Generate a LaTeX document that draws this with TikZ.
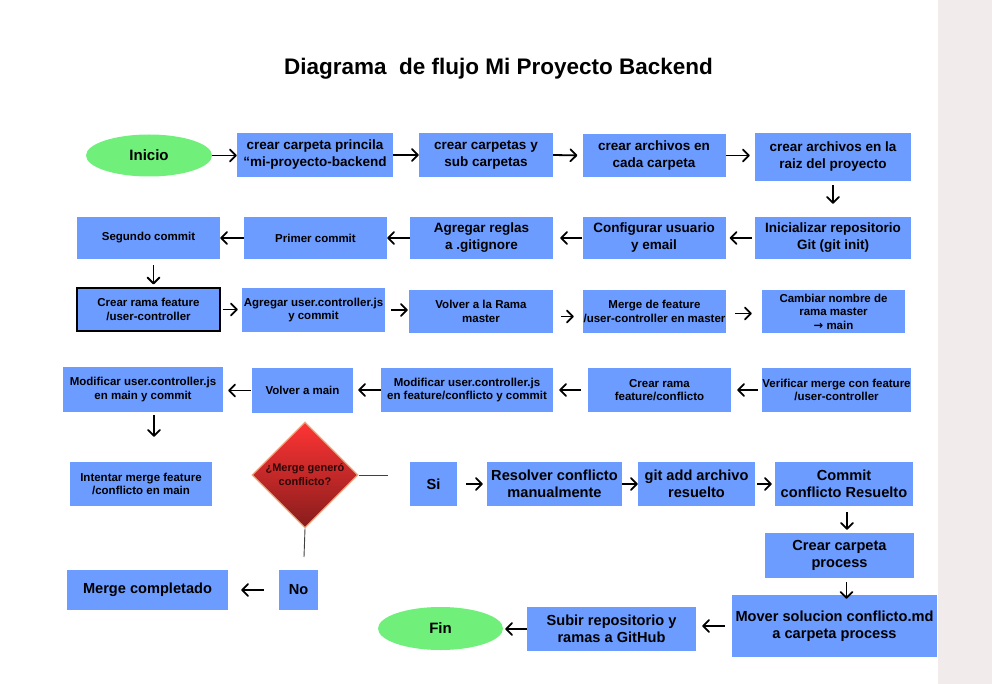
\documentclass[tikz,border=0pt]{standalone}
\usepackage{fontspec}
\setmainfont{Liberation Sans}
\newfontfamily\arrowfont{DejaVu Sans}
\usetikzlibrary{arrows.meta,shapes.geometric}

\definecolor{boxblue}{RGB}{108,156,255}
\definecolor{startgreen}{RGB}{112,240,122}
\definecolor{sideband}{RGB}{241,235,235}
\definecolor{decisionrim}{RGB}{235,170,130}

\tikzset{
  box/.style={rectangle, fill=boxblue, inner sep=0pt, align=center, text=black, font=\bfseries\fontsize{13.5}{17}\selectfont},
  smallbox/.style={box, font=\bfseries\fontsize{11.5}{13.5}\selectfont},
  bigbox/.style={box, font=\bfseries\fontsize{14.6}{17.5}\selectfont},
  terminal/.style={ellipse, fill=startgreen, inner sep=0pt, text=black, font=\bfseries\fontsize{15}{18}\selectfont},
  decision/.style={diamond, top color={rgb,255:red,255;green,52;blue,52}, bottom color={rgb,255:red,135;green,28;blue,28}, draw=decisionrim, line width=1.2pt, inner sep=0pt, align=center, text={rgb,255:red,45;green,8;blue,8}, font=\bfseries\fontsize{11}{14}\selectfont},
  arr/.style={-{Straight Barb[length=6pt,width=12pt,round]}, line width=1.8pt},
  plainline/.style={line width=0.9pt, draw=black!75},
}

\begin{document}
\begin{tikzpicture}[x=1pt, y=-1pt]
			%%%%% START %%%%%
			
			\useasboundingbox (0,0) rectangle (992,684);
			\fill[sideband] (938,0) rectangle (992,684);
			
			\node[font=\bfseries\fontsize{22.5}{26}\selectfont] (title) at (498.5,69) {Diagrama\ \ de flujo Mi Proyecto Backend};
			
			% fila 1
			\node[terminal, minimum width=126pt, minimum height=42pt] (inicio) at (149,155.5) {Inicio};
			\node[box, minimum width=156pt, minimum height=44pt] (carpeta) at (315,155) {crear carpeta princila\\“mi-proyecto-backend};
			\node[box, minimum width=134pt, minimum height=44pt] (subcarp) at (486,155) {crear carpetas y\\sub carpetas};
			\node[box, minimum width=143pt, minimum height=43pt] (archivos) at (654,155.5) {crear archivos en\\cada carpeta};
			\node[box, minimum width=156pt, minimum height=48pt] (raiz) at (833,157) {crear archivos en la\\raiz del proyecto};
			
			% fila 2
			\node[box, minimum width=156pt, minimum height=42pt] (gitinit) at (833,238) {Inicializar repositorio\\Git (git init)};
			\node[box, minimum width=143pt, minimum height=42pt] (config) at (654,238) {Configurar usuario\\y email};
			\node[box, minimum width=143pt, minimum height=42pt] (gitignore) at (481.5,238) {Agregar reglas\\a .gitignore};
			\node[smallbox, minimum width=143pt, minimum height=42pt] (primer) at (315.5,238) {Primer commit};
			\node[smallbox, minimum width=143pt, minimum height=42pt] (segundo) at (148.5,238) {Segundo commit};
			
			% fila 3
			\node[smallbox, draw=black, line width=1.2pt, minimum width=143pt, minimum height=43pt] (ramafeat) at (148.5,309.5) {Crear rama feature\\/user-controller};
			\node[smallbox, minimum width=143pt, minimum height=44pt] (agregar) at (313.5,310) {Agregar user.controller.js\\y commit};
			\node[smallbox, minimum width=144pt, minimum height=43pt] (volver) at (481,311.5) {Volver a la Rama\\master};
			\node[smallbox, minimum width=143pt, minimum height=43pt] (mergefeat) at (654.5,311.5) {Merge de feature\\/user-controller en master};
			\node[smallbox, minimum width=143pt, minimum height=43pt] (cambiar) at (833.5,311.5) {Cambiar nombre de\\rama master\\{\arrowfont→} main};
			
			% fila 4
			\node[smallbox, minimum width=149pt, minimum height=44pt] (verificar) at (836.5,390) {Verificar merge con feature\\/user-controller};
			\node[smallbox, minimum width=143pt, minimum height=44pt] (ramaconf) at (659.5,390) {Crear rama\\feature/conflicto};
			\node[smallbox, minimum width=172pt, minimum height=44pt] (modfeat) at (467,390) {Modificar user.controller.js\\en feature/conflicto y commit};
			\node[smallbox, minimum width=101pt, minimum height=45pt] (volvermain) at (302.5,390.5) {Volver a main};
			\node[smallbox, minimum width=160pt, minimum height=45pt] (modmain) at (143,389.5) {Modificar user.controller.js\\en main y commit};
			
			% conflicto
			\node[smallbox, minimum width=142pt, minimum height=44pt] (intentar) at (141,484) {Intentar merge feature\\/conflicto en main};
			\node[decision, minimum width=106pt, minimum height=106pt] (pregunta) at (305,475) {¿Merge generó\\conflicto?};
			\coordinate (sicorte) at (388,475);
			\coordinate (nocorte) at (304,557);
			\node[bigbox, minimum width=47pt, minimum height=44pt] (si) at (433.5,484) {Si};
			\node[bigbox, minimum width=135pt, minimum height=44pt] (resolver) at (554.5,484) {Resolver conflicto\\manualmente};
			\node[bigbox, minimum width=117pt, minimum height=44pt] (gitadd) at (696.5,484) {git add archivo\\resuelto};
			\node[bigbox, minimum width=138pt, minimum height=44pt] (commit) at (844,484) {Commit\\conflicto Resuelto};
			\node[bigbox, minimum width=149pt, minimum height=45pt] (crearproc) at (839.5,555.5) {Crear carpeta\\process};
			\node[bigbox, minimum width=205pt, minimum height=62pt] (mover) at (834.5,626) {Mover solucion conflicto.md\\a carpeta process};
			\node[bigbox, minimum width=169pt, minimum height=44pt] (subir) at (611.5,629) {Subir repositorio y\\ramas a GitHub};
			\node[terminal, minimum width=125pt, minimum height=43pt] (fin) at (440.5,628.5) {Fin};
			\node[bigbox, minimum width=39pt, minimum height=40pt] (no) at (298.5,590) {No};
			\node[bigbox, minimum width=161pt, minimum height=40pt] (completado) at (147.5,590) {Merge completado};
			
			% flechas
			\draw[arr] (inicio.east) -- (inicio.east -| carpeta.west);
			\draw[arr] (carpeta.east) -- (subcarp.west);
			\draw[arr, shorten >=5pt] (subcarp.east) -- (archivos.west);
			\draw[arr, shorten >=5pt] (archivos.east) -- (archivos.east -| raiz.west);
			\draw[arr, shorten <=4pt, shorten >=13pt] (raiz.south) -- (gitinit.north);
			\draw[arr, shorten <=3pt, shorten >=4pt] (gitinit.west) -- (config.east);
			\draw[arr, shorten >=7pt] (config.west) -- (gitignore.east);
			\draw[arr] (gitignore.west) -- (primer.east);
			\draw[arr] (primer.west) -- (segundo.east);
			\draw[arr, shorten <=6pt, shorten >=3pt] ([xshift=5pt]segundo.south) -- ([xshift=5pt]ramafeat.north);
			\draw[arr, shorten <=2pt, shorten >=4pt] (ramafeat.east) -- (ramafeat.east -| agregar.west);
			\draw[arr, shorten <=6pt, shorten >=1pt] (agregar.east) -- (agregar.east -| volver.west);
			\draw[arr, shorten <=8pt, shorten >=9pt] ([yshift=-5pt]volver.east) -- ([yshift=-5pt]mergefeat.west);
			\draw[arr, shorten <=9pt, shorten >=10pt] ([yshift=-2pt]mergefeat.east) -- ([yshift=-2pt]cambiar.west);
			\draw[arr, shorten <=4pt, shorten >=6pt] (verificar.west) -- (ramaconf.east);
			\draw[arr, shorten <=7pt, shorten >=6pt] (ramaconf.west) -- (modfeat.east);
			\draw[arr, shorten >=5pt] (modfeat.west) -- (modfeat.west -| volvermain.east);
			\draw[arr, shorten <=1pt, shorten >=5pt] (volvermain.west) -- (volvermain.west -| modmain.east);
			\draw[arr, shorten <=3pt, shorten >=25pt] ([xshift=11pt]modmain.south) -- ([xshift=11pt]modmain.south |- intentar.north);
			\draw[plainline] (pregunta.east) -- (sicorte);
			\draw[plainline] (pregunta.south) -- (nocorte);
			\draw[arr, shorten <=9pt, shorten >=4pt] (si.east) -- (resolver.west);
			\draw[arr] (resolver.east) -- (gitadd.west);
			\draw[arr, shorten <=2pt, shorten >=3pt] (gitadd.east) -- (commit.west);
			\draw[arr, shorten <=6pt, shorten >=3pt] ([xshift=3pt]commit.south) -- ([xshift=3pt]commit.south |- crearproc.north);
			\draw[arr, shorten <=4pt, shorten >=-4pt] ([xshift=7pt]crearproc.south) -- ([xshift=7pt]crearproc.south |- mover.north);
			\draw[arr, shorten <=7pt, shorten >=6pt] (mover.west) -- (mover.west -| subir.east);
			\draw[arr, shorten >=2pt] (subir.west) -- (subir.west -| fin.east);
			\draw[arr, shorten <=15pt, shorten >=13pt] (no.west) -- (completado.east);
			
			%%%%% END %%%%%
\end{tikzpicture}
\end{document}
